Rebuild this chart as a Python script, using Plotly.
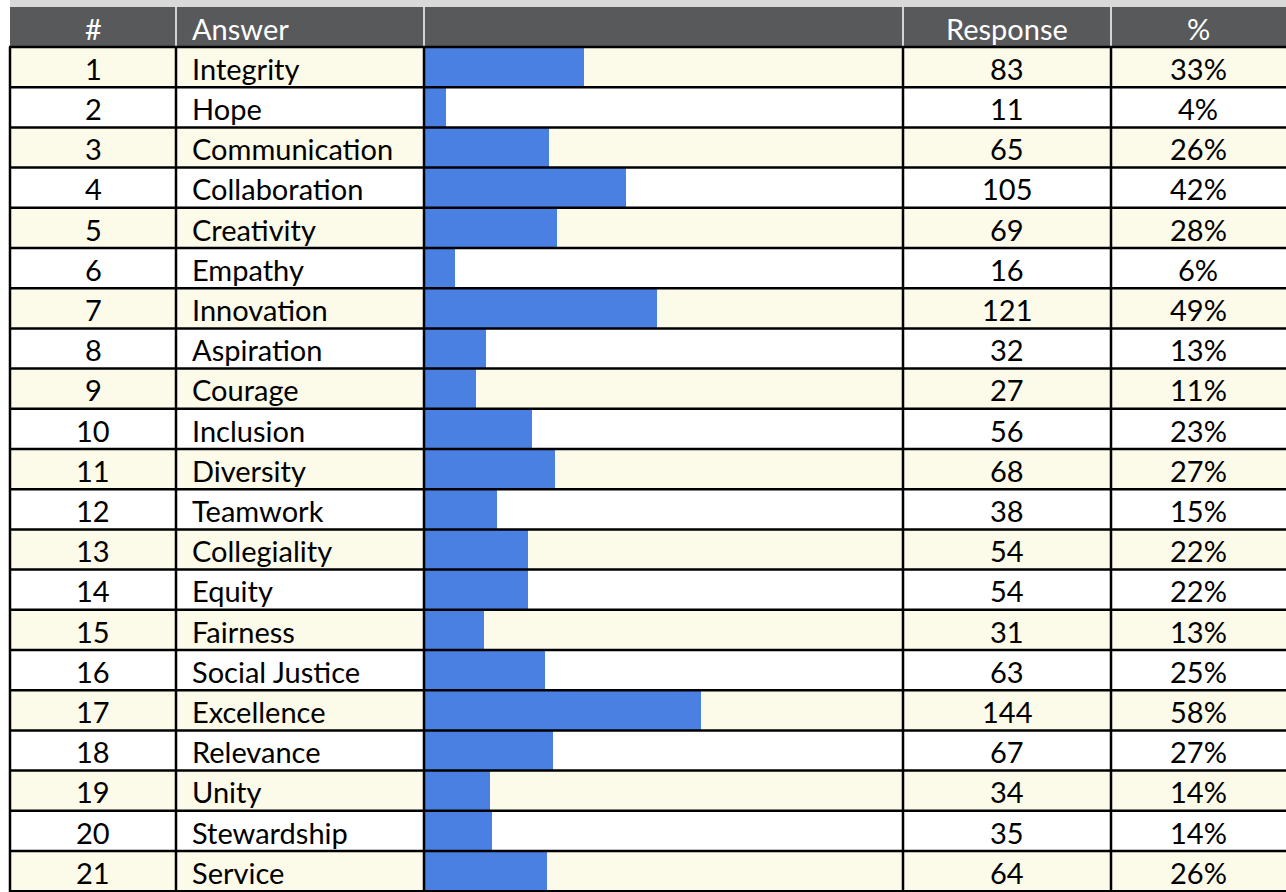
import plotly.graph_objects as go

numbers = list(range(1, 22))
answers = ["Integrity", "Hope", "Communication", "Collaboration", "Creativity", "Empathy",
           "Innovation", "Aspiration", "Courage", "Inclusion", "Diversity", "Teamwork",
           "Collegiality", "Equity", "Fairness", "Social Justice", "Excellence", "Relevance",
           "Unity", "Stewardship", "Service"]
responses = [83, 11, 65, 105, 69, 16, 121, 32, 27, 56, 68, 38, 54, 54, 31, 63, 144, 67, 34, 35, 64]
percents = ["33%", "4%", "26%", "42%", "28%", "6%", "49%", "13%", "11%", "23%", "27%", "15%",
            "22%", "22%", "13%", "25%", "58%", "27%", "14%", "14%", "26%"]
headers = ["#", "Answer", "", "Response", "%"]
total_respondents = 249

W, H = 1286, 892
ROW_H = 40.2
TOP_ROW = 47.0
y_top = -0.5 - TOP_ROW / ROW_H
y_bot = y_top + H / ROW_H
def py(p):
    return y_top + p / ROW_H

FONT = "Lato"
col_lines = [10, 176, 424, 903, 1111]
n = len(answers)
idx = list(range(n))

fig = go.Figure()
fig.add_trace(go.Bar(
    y=idx, x=responses, orientation="h", width=1.0,
    marker=dict(color="#4A80E2", line=dict(width=0)),
    hoverinfo="skip", showlegend=False,
))

shapes = []
shapes.append(dict(type="rect", xref="paper", yref="y", x0=10 / W, x1=1, y0=y_top, y1=py(7),
                   fillcolor="#D9D9D9", line=dict(width=0), layer="below"))
shapes.append(dict(type="rect", xref="paper", yref="y", x0=10 / W, x1=1, y0=py(7), y1=-0.5,
                   fillcolor="#58595B", line=dict(width=0), layer="below"))
for i in idx:
    if i % 2 == 0:
        shapes.append(dict(type="rect", xref="paper", yref="y", x0=10 / W, x1=1,
                           y0=i - 0.5, y1=i + 0.5, fillcolor="#FCFAE8",
                           line=dict(width=0), layer="below"))
for x in col_lines[1:]:
    shapes.append(dict(type="line", xref="paper", yref="y", x0=x / W, x1=x / W,
                       y0=py(7), y1=-0.5, line=dict(color="#D4D4D4", width=2)))
for i in range(n + 1):
    shapes.append(dict(type="line", xref="paper", yref="y", x0=9 / W, x1=1,
                       y0=i - 0.5, y1=i - 0.5, line=dict(color="black", width=2.5)))
for x in col_lines:
    shapes.append(dict(type="line", xref="paper", yref="y", x0=x / W, x1=x / W,
                       y0=-0.5, y1=y_bot, line=dict(color="black", width=2.5)))

ann = []
FS = 29
def add_text(xp, y, text, anchor, color="black"):
    ann.append(dict(xref="paper", yref="y", x=xp / W, y=y, text=text, showarrow=False,
                    xanchor=anchor, yanchor="middle",
                    font=dict(family=FONT, size=FS, color=color)))

hy = (py(7) + -0.5) / 2 + 0.03
add_text(93, hy, headers[0], "center", "white")
add_text(190, hy, headers[1], "left", "white")
add_text(1007, hy, headers[3], "center", "white")
add_text(1198, hy, headers[4], "center", "white")
for i in idx:
    yy = i + 0.03
    add_text(93, yy, str(numbers[i]), "center")
    add_text(190, yy, answers[i], "left")
    add_text(1007, yy, str(responses[i]), "center")
    add_text(1198, yy, percents[i], "center")

fig.update_layout(
    width=W, height=H, margin=dict(l=0, r=0, t=0, b=0),
    paper_bgcolor="white", plot_bgcolor="rgba(0,0,0,0)",
    xaxis=dict(domain=[424.5 / W, 902.5 / W], range=[0, total_respondents],
               visible=False, fixedrange=True),
    yaxis=dict(range=[y_bot, y_top], visible=False, fixedrange=True),
    shapes=shapes, annotations=ann, bargap=0,
)
fig.write_html("out.html", config={"staticPlot": True},
               post_script="document.body.style.margin='0';document.body.style.overflow='hidden';")
